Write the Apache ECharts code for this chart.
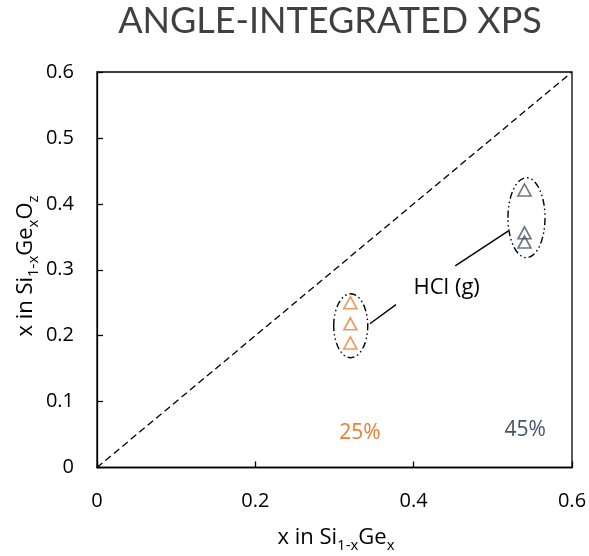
<!DOCTYPE html>
<html>
<head>
<meta charset="utf-8">
<script src="https://cdn.jsdelivr.net/npm/echarts@6/dist/echarts.min.js"></script>
<style>
  html, body { margin: 0; padding: 0; background: #fff; }
  #chart { width: 589px; height: 556px; }
</style>
</head>
<body>
<div id="chart"></div>
<script>
// Ge fraction: substrate (x) vs oxide (y), two compositions after HCl (g) treatment
const ge25X = [0.32, 0.32, 0.32];
const ge25Y = [0.25, 0.218, 0.189];
const ge45X = [0.54, 0.54, 0.54];
const ge45Y = [0.421, 0.356, 0.342];

// x = y reference line
const parityLine = [[0, 0], [0.6, 0.6]];

// grouping ellipses: [centerX, centerY, radiusX, radiusY]
const groupEllipses = [
  [0.3205, 0.215, 0.0215, 0.0485],
  [0.5425, 0.379, 0.0234, 0.0606]
];

// callout leaders from the label to each group
const leader25 = [[0.3447, 0.218], [0.3777, 0.247]];
const leader45 = [[0.4525, 0.306], [0.5197, 0.359]];

// annotation texts: [x, y, text, colour key, font size]
const annotations = [
  [0.4417, 0.273, 'HCl (g)', 'black', 22],
  [0.332, 0.052, '25%', 'orange', 21],
  [0.541, 0.057, '45%', 'slate', 21]
];

const xTicks = [0, 0.2, 0.4, 0.6];
const yTicks = [0, 0.1, 0.2, 0.3, 0.4, 0.5, 0.6];

const ORANGE = '#ED7D31';
const SLATE = '#44546A';
const colourOf = { black: '#000000', orange: ORANGE, slate: SLATE };
const FONT = 'Open Sans';

const tickFmt = v => (Math.abs(v) < 1e-9 ? '0' : v.toFixed(1));

const chart = echarts.init(document.getElementById('chart'), null, { renderer: 'canvas' });

// axis titles with subscripts
const titleRich = {
  main: { fontFamily: FONT, fontSize: 22, fill: '#000', color: '#000', lineHeight: 30 },
  sub: { fontFamily: FONT, fontSize: 15, fill: '#000', color: '#000', verticalAlign: 'bottom', lineHeight: 21 }
};

chart.setOption({
  animation: false,
  backgroundColor: '#ffffff',
  title: {
    text: 'ANGLE-INTEGRATED XPS',
    left: 325,
    textAlign: 'center',
    top: -2,
    textStyle: { fontFamily: 'Lato', fontWeight: 'normal', fontSize: 36, color: '#404040' }
  },
  grid: {
    left: 97, right: 17, top: 72, bottom: 88.5,
    outerBoundsMode: 'none',
    containLabel: false,
    show: true, borderColor: '#000', borderWidth: 1.3, backgroundColor: 'transparent'
  },
  graphic: [
    {
      type: 'text',
      x: 336, y: 538,
      style: {
        text: '{main|x in Si}{sub|1-x}{main|Ge}{sub|x}',
        rich: titleRich,
        align: 'center',
        verticalAlign: 'middle',
        fontFamily: FONT, fontSize: 22, fill: '#000'
      }
    },
    {
      type: 'text',
      x: 26, y: 266,
      rotation: Math.PI / 2,
      style: {
        text: '{main|x in Si}{sub|1-x}{main|Ge}{sub|x}{main|O}{sub|z}',
        rich: titleRich,
        align: 'center',
        verticalAlign: 'middle',
        fontFamily: FONT, fontSize: 22, fill: '#000'
      }
    }
  ],
  xAxis: {
    type: 'value', min: 0, max: 0.6, interval: 0.2,
    axisLine: { show: true, lineStyle: { color: '#000', width: 1.3 } },
    axisTick: { show: true, inside: true, length: 6, lineStyle: { color: '#000', width: 1.3 } },
    axisLabel: { formatter: tickFmt, margin: 24, fontFamily: FONT, fontSize: 20, color: '#000' },
    splitLine: { show: false }
  },
  yAxis: {
    type: 'value', min: 0, max: 0.6, interval: 0.1,
    axisLine: { show: true, lineStyle: { color: '#000', width: 1.3 } },
    axisTick: { show: true, inside: true, length: 6, lineStyle: { color: '#000', width: 1.3 } },
    axisLabel: { formatter: tickFmt, margin: 23, fontFamily: FONT, fontSize: 20, color: '#000' },
    splitLine: { show: false }
  },
  series: [
    {
      type: 'line',
      data: parityLine,
      showSymbol: false,
      silent: true,
      lineStyle: { color: '#000', width: 1.3, type: [7, 4] },
      z: 1
    },
    {
      type: 'custom',
      silent: true,
      data: groupEllipses,
      renderItem: (params, api) => {
        const c = api.coord([api.value(0), api.value(1)]);
        const sz = api.size([api.value(2), api.value(3)]);
        return {
          type: 'ellipse',
          shape: { cx: c[0], cy: c[1], rx: sz[0], ry: sz[1] },
          style: { fill: 'none', stroke: '#000', lineWidth: 1.4, lineDash: [7, 3, 1.5, 3, 1.5, 3] }
        };
      },
      z: 2
    },
    {
      type: 'line', data: leader25, showSymbol: false, silent: true,
      lineStyle: { color: '#000', width: 1.4 }, z: 2
    },
    {
      type: 'line', data: leader45, showSymbol: false, silent: true,
      lineStyle: { color: '#000', width: 1.4 }, z: 2
    },
    {
      type: 'scatter',
      data: ge25X.map((x, i) => [x, ge25Y[i]]),
      symbol: 'triangle',
      symbolSize: [13, 12],
      itemStyle: { color: 'rgba(255,255,255,0)', borderColor: ORANGE, borderWidth: 1.6 },
      z: 3
    },
    {
      type: 'scatter',
      data: ge45X.map((x, i) => [x, ge45Y[i]]),
      symbol: 'triangle',
      symbolSize: [13, 12],
      itemStyle: { color: 'rgba(255,255,255,0)', borderColor: SLATE, borderWidth: 1.6 },
      z: 3
    },
    {
      type: 'custom',
      silent: true,
      data: annotations,
      renderItem: (params, api) => {
        const a = annotations[params.dataIndex];
        const c = api.coord([a[0], a[1]]);
        return {
          type: 'text',
          x: c[0], y: c[1],
          style: {
            text: a[2],
            fill: colourOf[a[3]],
            fontFamily: FONT,
            fontSize: a[4],
            align: 'center',
            verticalAlign: 'middle'
          }
        };
      },
      z: 4
    }
  ]
});
</script>
</body>
</html>
